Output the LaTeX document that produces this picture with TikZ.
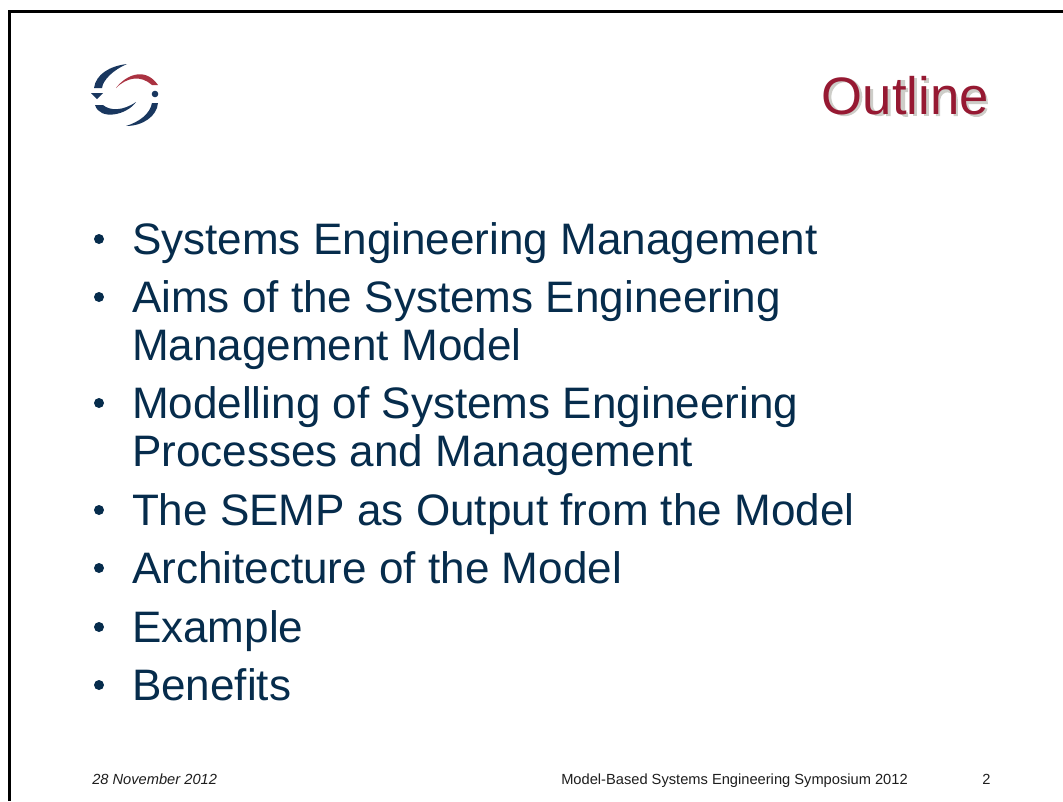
\documentclass[tikz,border=0pt]{standalone}
\usepackage{fontspec}
\setmainfont{Liberation Sans}
\definecolor{bodyblue}{RGB}{6,44,76}
\definecolor{titlered}{RGB}{150,25,50}
\definecolor{logoblue}{RGB}{25,55,95}
\definecolor{logored}{RGB}{170,50,65}
\definecolor{foot}{RGB}{30,30,30}
\definecolor{shade}{RGB}{205,205,200}
\tikzset{
  x=0.75pt,y=-0.75pt,
  item/.style={anchor=base west,inner sep=0pt,outer sep=0pt,text=bodyblue,font=\fontsize{33.05}{40}\selectfont},
  bul/.style={circle,fill=bodyblue,draw=none,minimum size=7.5pt,inner sep=0pt},
  foottext/.style={anchor=base west,inner sep=0pt,text=foot,font=\fontsize{11}{13}\selectfont},
  frameline/.style={draw=black,line width=2pt},
  shadowline/.style={draw=shade,line width=3.3pt}
}
\begin{document}
\begin{tikzpicture}
\useasboundingbox (0,0) rectangle (1063,801);
\fill[white] (0,0) rectangle (1063,801);
\draw[frameline] (9.5,801) -- (9.5,11.5) -- (1063,11.5);
% logo
\fill[logoblue] (127,64) .. controls (110,66) and (96,74) .. (94,88) -- (102,88) .. controls (103,80) and (113,70) .. (127,64) -- cycle;
\fill[logoblue] (91,93) -- (103,93) -- (97,99) -- cycle;
\fill[logored] (116,88) .. controls (124,77) and (144,65) .. (158,85) -- (152,85) .. controls (141,75) and (127,77) .. (116,88) -- cycle;
\fill[logoblue] (155,94) circle (3.3);
\fill[logoblue] (95,105) -- (103,105) .. controls (110,111) and (123,111) .. (136,102) .. controls (127,115) and (100,121) .. (95,105) -- cycle;
\fill[logoblue] (152,103) -- (158,103) .. controls (157,116) and (143,126) .. (126,126) .. controls (139,122) and (150,114) .. (152,103) -- cycle;
% title shadow, drawn as strokes behind the glyphs
\begin{scope}[shift={(2,2)}]
\draw[shadowline] (842.6,95) ellipse (15.5 and 17);
\draw[shadowline] (868.8,87) -- (868.8,104) .. controls (868.8,115) and (886.4,115) .. (886.4,102) (886.4,87) -- (886.4,114);
\draw[shadowline] (901,78) -- (901,109) .. controls (901,113) and (903,113) .. (906,112.5) (894,88) -- (906,88);
\draw[shadowline] (912.7,76) -- (912.7,114);
\draw[shadowline] (924.4,87) -- (924.4,114) (924.4,76) -- (924.4,81);
\draw[shadowline] (936,87) -- (936,114) (936,97) .. controls (938,85) and (953.7,85) .. (953.7,98) -- (953.7,114);
\draw[shadowline] (964,100) -- (983.5,100) .. controls (983.5,84) and (964,84) .. (964,100) .. controls (964,116) and (981,116) .. (983.5,106);
\end{scope}
% title
\node[anchor=base east,inner sep=0pt,text=titlered,font=\fontsize{39.5}{46}\selectfont] (title) at (989,114) {Outline};
% bullets
\node[bul] (b1) at (99,239) {};
\node[bul] (b2) at (99,297) {};
\node[bul] (b3) at (99,403) {};
\node[bul] (b4) at (99,510) {};
\node[bul] (b5) at (99,568) {};
\node[bul] (b6) at (99,627) {};
\node[bul] (b7) at (99,685) {};
\node[item] (t1) at (132,254) {Systems Engineering Management};
\node[item] (t2) at (132,312) {Aims of the Systems Engineering};
\node[item] (t2b) at (132,360) {Management Model};
\node[item] (t3) at (132,418) {Modelling of Systems Engineering};
\node[item] (t3b) at (132,466) {Processes and Management};
\node[item] (t4) at (132,525.5) {The SEMP as Output from the Model};
\node[item] (t5) at (132,583.5) {Architecture of the Model};
\node[item] (t6) at (132,642) {Example};
\node[item] (t7) at (132,700) {Benefits};
% footer
\node[foottext,font=\fontsize{11}{13}\selectfont\itshape] (f1) at (92,784) {28 November 2012};
\node[foottext] (f2) at (561,784) {Model-Based Systems Engineering Symposium 2012};
\node[foottext] (f3) at (982,784) {2};
\end{tikzpicture}
\end{document}
